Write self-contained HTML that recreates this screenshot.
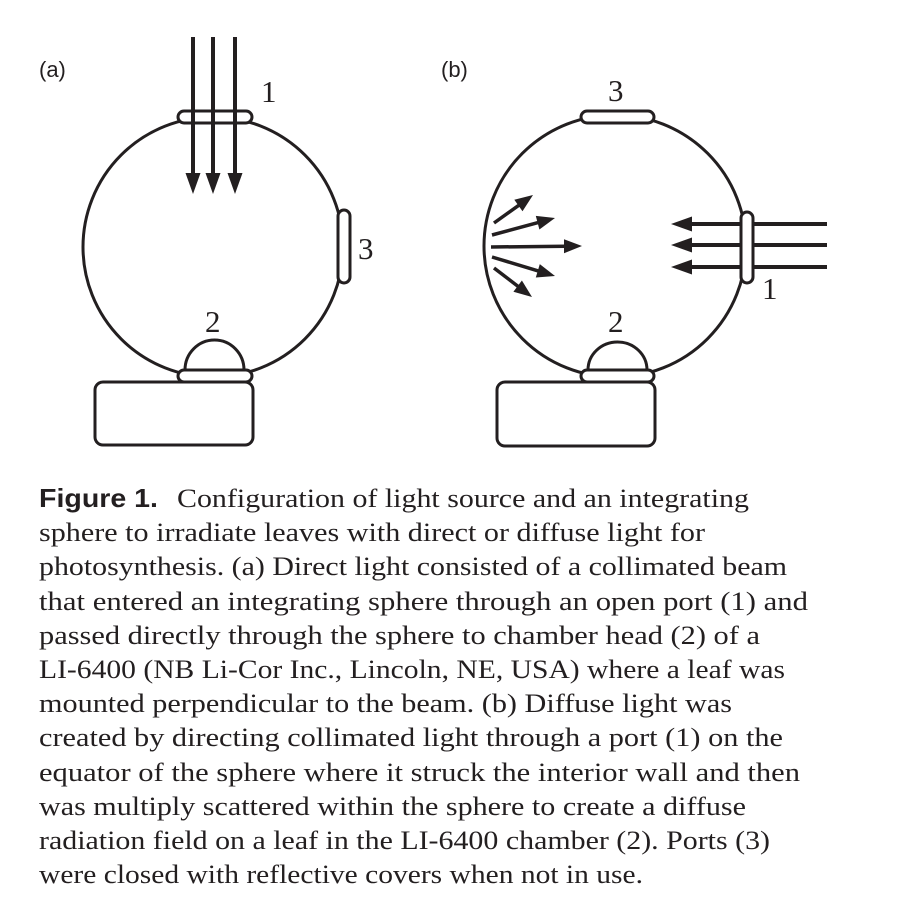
<!DOCTYPE html>
<html><head><meta charset="utf-8"><style>
html,body{margin:0;padding:0;background:#fff;}
svg{display:block;}
.s{font-family:"Liberation Serif",serif;fill:#231f20;}
</style></head><body>
<svg width="901" height="907" viewBox="0 0 901 907" xmlns="http://www.w3.org/2000/svg">
<g fill="none" stroke="#231f20" stroke-width="3">
<circle cx="213" cy="247" r="130"/>
<rect x="178" y="111" width="74" height="12" rx="6" fill="#fff"/>
<rect x="338" y="210" width="12" height="73" rx="6" fill="#fff"/>
<path d="M185,370 A29.5,30 0 0 1 244,370" fill="#fff"/>
<rect x="178" y="370" width="74" height="12" rx="6" fill="#fff"/>
<rect x="95" y="382" width="158" height="63" rx="8" fill="#fff"/>
<circle cx="615" cy="246" r="131"/>
<rect x="581" y="111" width="73" height="12" rx="6" fill="#fff"/>
<path d="M588,370 A29.5,28 0 0 1 647,370" fill="#fff"/>
<rect x="581" y="370" width="73" height="12" rx="6" fill="#fff"/>
<rect x="497" y="382" width="158" height="64" rx="8" fill="#fff"/>
</g>
<g stroke="#231f20" stroke-width="4" fill="none">
<line x1="193" y1="37" x2="193" y2="176"/>
<line x1="213" y1="37" x2="213" y2="176"/>
<line x1="235" y1="37" x2="235" y2="176"/>
<line x1="827" y1="224" x2="690" y2="224"/>
<line x1="827" y1="245" x2="690" y2="245"/>
<line x1="827" y1="267" x2="690" y2="267"/>
</g>
<g fill="#231f20">
<path d="M185.5,173 L200.5,173 L193,194 Z"/>
<path d="M205.5,173 L220.5,173 L213,194 Z"/>
<path d="M227.5,173 L242.5,173 L235,194 Z"/>
<path d="M692,216.5 L692,231.5 L671,224 Z"/>
<path d="M692,237.5 L692,252.5 L671,245 Z"/>
<path d="M692,259.5 L692,274.5 L671,267 Z"/>
</g>
<rect x="741" y="212" width="12" height="71" rx="6" fill="#fff" stroke="#231f20" stroke-width="3"/>
<g stroke="#231f20" stroke-width="4">
<line x1="753" y1="224" x2="827" y2="224"/>
<line x1="753" y1="245" x2="827" y2="245"/>
<line x1="753" y1="267" x2="827" y2="267"/>
</g>
<g stroke="#231f20" stroke-width="3.5">
<line x1="494" y1="223" x2="520" y2="204.4"/>
<line x1="492" y1="235" x2="539" y2="222.3"/>
<line x1="491" y1="247" x2="566" y2="246.2"/>
<line x1="492" y1="257" x2="539" y2="271.2"/>
<line x1="494" y1="268" x2="519" y2="287.1"/>
</g>
<g fill="#231f20">
<path d="M533,195 L522.5,211.2 L514.3,199.8 Z"/>
<path d="M555,218 L539.4,229.5 L535.8,215.9 Z"/>
<path d="M582,246 L564,253.2 L564,239.2 Z"/>
<path d="M555,276 L535.8,277.5 L539.8,264.1 Z"/>
<path d="M532,297 L513.4,291.7 L521.9,280.5 Z"/>
</g>
<g font-family="Liberation Sans, sans-serif" font-size="22" fill="#231f20">
<text x="39" y="77">(a)</text>
<text x="441" y="77">(b)</text>
</g>
<g class="s" font-size="31">
<text x="261" y="102">1</text>
<text x="358" y="259">3</text>
<text x="205" y="332">2</text>
<text x="608" y="101">3</text>
<text x="608" y="332">2</text>
<text x="762" y="299">1</text>
</g>
<g class="s" font-size="26">
<text x="39" y="507" font-family="Liberation Sans, sans-serif" font-weight="bold" textLength="119" lengthAdjust="spacingAndGlyphs">Figure 1.</text>
<text x="177" y="507" textLength="572" lengthAdjust="spacingAndGlyphs">Configuration of light source and an integrating</text>
<text x="39" y="541" textLength="666" lengthAdjust="spacingAndGlyphs">sphere to irradiate leaves with direct or diffuse light for</text>
<text x="39" y="575" textLength="748" lengthAdjust="spacingAndGlyphs">photosynthesis. (a) Direct light consisted of a collimated beam</text>
<text x="39" y="610" textLength="769" lengthAdjust="spacingAndGlyphs">that entered an integrating sphere through an open port (1) and</text>
<text x="39" y="644" textLength="721" lengthAdjust="spacingAndGlyphs">passed directly through the sphere to chamber head (2) of a</text>
<text x="39" y="678" textLength="746" lengthAdjust="spacingAndGlyphs">LI-6400 (NB Li-Cor Inc., Lincoln, NE, USA) where a leaf was</text>
<text x="39" y="712" textLength="693" lengthAdjust="spacingAndGlyphs">mounted perpendicular to the beam. (b) Diffuse light was</text>
<text x="39" y="746" textLength="744" lengthAdjust="spacingAndGlyphs">created by directing collimated light through a port (1) on the</text>
<text x="39" y="781" textLength="761" lengthAdjust="spacingAndGlyphs">equator of the sphere where it struck the interior wall and then</text>
<text x="39" y="815" textLength="707" lengthAdjust="spacingAndGlyphs">was multiply scattered within the sphere to create a diffuse</text>
<text x="39" y="849" textLength="731" lengthAdjust="spacingAndGlyphs">radiation field on a leaf in the LI-6400 chamber (2). Ports (3)</text>
<text x="39" y="883" textLength="604" lengthAdjust="spacingAndGlyphs">were closed with reflective covers when not in use.</text>
</g>
</svg>
</body></html>
